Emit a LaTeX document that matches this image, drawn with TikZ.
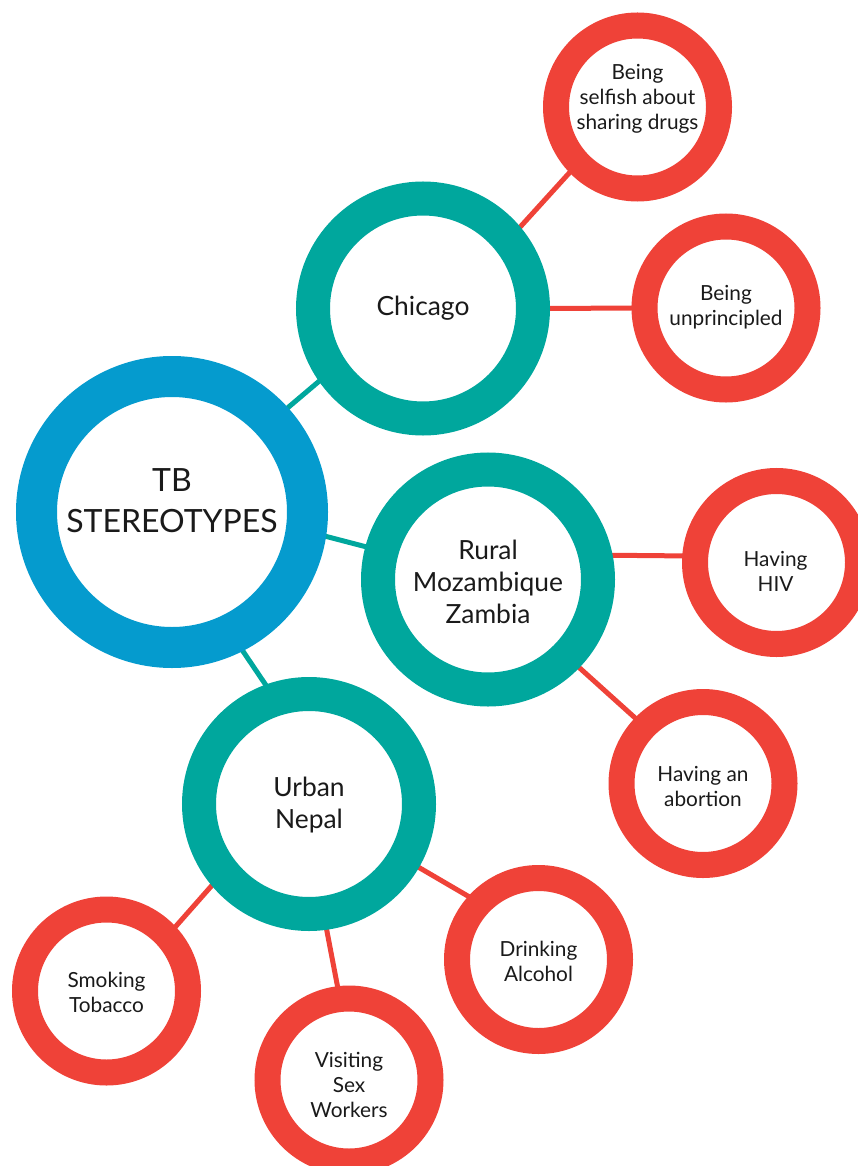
\documentclass[tikz,border=0pt]{standalone}
\usepackage{fontspec}
\setmainfont{Lato}
\usetikzlibrary{backgrounds}
\definecolor{tbblue}{HTML}{059BCE}
\definecolor{tbteal}{HTML}{00A79D}
\definecolor{tbred}{HTML}{EF4238}
\definecolor{tbtext}{HTML}{1A1A1A}
\tikzset{
 ringblue/.style={circle,draw=tbblue,fill=white,line width=41pt,minimum size=271pt,inner sep=0pt},
 ringteal/.style={circle,draw=tbteal,fill=white,line width=34pt,minimum size=220pt,inner sep=0pt},
 ringred/.style={circle,draw=tbred,fill=white,line width=26pt,minimum size=163pt,inner sep=0pt},
 lbl/.style={align=center,text=tbtext,inner sep=0pt,yshift=-3pt},
 lblbig/.style={lbl,font=\fontsize{32}{41}\selectfont},
 lblmid/.style={lbl,font=\fontsize{26.4}{32}\selectfont},
 lblsmall/.style={lbl,font=\fontsize{20.8}{25}\selectfont},
 linkteal/.style={draw=tbteal,line width=5pt,shorten <=-4pt,shorten >=-4pt},
 linkred/.style={draw=tbred,line width=5pt,shorten <=-4pt,shorten >=-4pt},
}
\begin{document}
\begin{tikzpicture}[x=1pt,y=-1pt]
\useasboundingbox (0,0) rectangle (858,1166);
% rings
\node[ringblue] (blue) at (172,512) {};
\node[ringteal] (chicago) at (423,308.5) {};
\node[ringteal] (rural) at (488,579.5) {};
\node[ringteal] (urban) at (309,804) {};
\node[ringred] (selfish) at (637.5,107) {};
\node[ringred] (unpr) at (726,308) {};
\node[ringred] (hiv) at (776.5,562.5) {};
\node[ringred] (abort) at (703,783.5) {};
\node[ringred] (drink) at (538.5,959.5) {};
\node[ringred] (smoke) at (106.5,991) {};
\node[ringred] (visit) at (349,1080) {};
% labels
\node[lblbig] (blueT) at (172,497.5) {TB\\STEREOTYPES};
\node[lblmid] (chicagoT) at (423,305.5) {Chicago};
\node[lblmid] (ruralT) at (488,579) {Rural\\Mozambique\\Zambia};
\node[lblmid] (urbanT) at (309,802) {Urban\\Nepal};
\node[lblsmall] (selfishT) at (637.5,95.5) {Being\\selfish about\\sharing drugs};
\node[lblsmall] (unprT) at (726,304) {Being\\unprincipled};
\node[lblsmall] (hivT) at (775.5,568.5) {Having\\HIV};
\node[lblsmall] (abortT) at (703,783) {Having an\\abortion};
\node[lblsmall] (drinkT) at (538.5,958) {Drinking\\Alcohol};
\node[lblsmall] (smokeT) at (106.5,989.5) {Smoking\\Tobacco};
\node[lblsmall] (visitT) at (349,1082) {Visiting\\Sex\\Workers};
% connectors
\begin{scope}[on background layer]
\draw[linkteal] (blue.42.2) -- (chicago.215.9);
\draw[linkteal] (blue.351.6) -- (rural.165.7);
\draw[linkteal] (blue.297.9) -- (urban.110.8);
\draw[linkred] (chicago.40.7) -- (selfish.224.4);
\draw[linkred] (chicago.0) -- (unpr.180);
\draw[linkred] (rural.11.2) -- (hiv.176);
\draw[linkred] (rural.316.1) -- (abort.136.5);
\draw[linkred] (urban.220.5) -- (smoke.43.1);
\draw[linkred] (urban.278.1) -- (visit.97.3);
\draw[linkred] (urban.330) -- (drink.138);
\end{scope}
\end{tikzpicture}
\end{document}
